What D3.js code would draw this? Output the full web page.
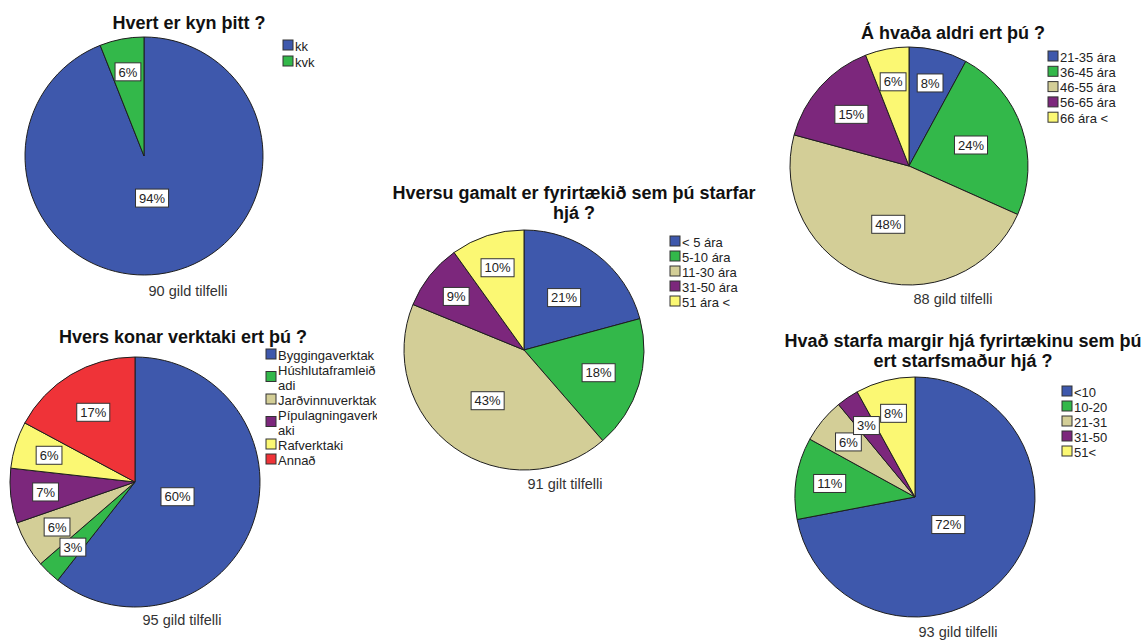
<!DOCTYPE html>
<html>
<head>
<meta charset="utf-8">
<script src="https://cdn.jsdelivr.net/npm/d3@7/dist/d3.min.js"></script>
<style>
  html, body { margin: 0; padding: 0; background: #fff; }
  svg { display: block; font-family: "Liberation Sans", Arial, sans-serif; }
</style>
</head>
<body>
<script>
// ---- Data: survey answers (percent of valid cases) ----
const genderCats = ["kk", "kvk"];
const genderPct = [94, 6];

const ageCats = ["21-35 ára", "36-45 ára", "46-55 ára", "56-65 ára", "66 ára <"];
const agePct = [8, 24, 48, 15, 6];

const companyAgeCats = ["< 5 ára", "5-10 ára", "11-30 ára", "31-50 ára", "51 ára <"];
const companyAgePct = [21, 18, 43, 9, 10];

const contractorCats = [["Byggingaverktak"], ["Húshlutaframleið", "adi"], ["Jarðvinnuverktak"],
                        ["Pípulagningaverk", "aki"], ["Rafverktaki"], ["Annað"]];
const contractorPct = [60, 3, 6, 7, 6, 17];

const staffCats = ["<10", "10-20", "21-31", "31-50", "51<"];
const staffPct = [72, 11, 6, 3, 8];

const titles = {
  gender: ["Hvert er kyn þitt ?"],
  age: ["Á hvaða aldri ert þú ?"],
  companyAge: ["Hversu gamalt er fyrirtækið sem þú starfar", "hjá ?"],
  contractor: ["Hvers konar verktaki ert þú ?"],
  staff: ["Hvað starfa margir hjá fyrirtækinu sem þú", "ert starfsmaður hjá ?"]
};
const footers = {
  gender: "90 gild tilfelli",
  age: "88 gild tilfelli",
  companyAge: "91 gilt tilfelli",
  contractor: "95 gild tilfelli",
  staff: "93 gild tilfelli"
};

// ---- Palette ----
const BLUE = "#3e58ac", GREEN = "#33b84a", TAN = "#d3ce97",
      PURPLE = "#7c277c", YELLOW = "#fbf873", RED = "#ef3338";

// ---- Panel layout ----
const panels = [
  { key: "gender", cats: genderCats.map(c => [c]), values: genderPct, colors: [BLUE, GREEN],
    cx: 144, cy: 156, r: 119, titleX: 189, titleY: 29,
    legendX: 283, legendY: 46, legendStep: 16, footerX: 188, footerY: 296 },
  { key: "age", cats: ageCats.map(c => [c]), values: agePct, colors: [BLUE, GREEN, TAN, PURPLE, YELLOW],
    cx: 909, cy: 166, r: 119, titleX: 953, titleY: 39,
    legendX: 1048, legendY: 57, legendStep: 15.3, footerX: 953, footerY: 304 },
  { key: "companyAge", cats: companyAgeCats.map(c => [c]), values: companyAgePct, colors: [BLUE, GREEN, TAN, PURPLE, YELLOW],
    cx: 524, cy: 350, r: 120, titleX: 574, titleY: 199,
    legendX: 670, legendY: 242, legendStep: 15, footerX: 565, footerY: 489 },
  { key: "contractor", cats: contractorCats, values: contractorPct, colors: [BLUE, GREEN, TAN, PURPLE, YELLOW, RED],
    cx: 135, cy: 482, r: 125, titleX: 183, titleY: 343,
    legendX: 266, legendY: 355, legendStep: 15, legendClip: 377, footerX: 182, footerY: 625 },
  { key: "staff", cats: staffCats.map(c => [c]), values: staffPct, colors: [BLUE, GREEN, TAN, PURPLE, YELLOW],
    cx: 915, cy: 497, r: 120, titleX: 963, titleY: 347,
    legendX: 1062, legendY: 392, legendStep: 15, footerX: 958, footerY: 637 }
];

const W = 1145, H = 642;
const svg = d3.select("body").append("svg").attr("width", W).attr("height", H);

// Distance of the value box from the centre, as a share of the radius
function labelFrac(p) {
  if (p > 0.55) return 0.36;
  if (p > 0.30) return 0.52;
  if (p > 0.19) return 0.55;
  if (p > 0.12) return 0.65;
  return 0.72;
}

function drawPanel(cfg) {
  const total = d3.sum(cfg.values);
  const pie = d3.pie().sort(null).value(d => d);
  const arcs = pie(cfg.values);
  const arc = d3.arc().innerRadius(0).outerRadius(cfg.r);

  // Title
  const tl = titles[cfg.key];
  svg.append("g").selectAll("text").data(tl).join("text")
    .attr("x", cfg.titleX)
    .attr("y", (d, i) => cfg.titleY + i * 20)
    .attr("text-anchor", "middle")
    .attr("font-size", 18).attr("font-weight", "bold").attr("fill", "#111")
    .text(d => d);

  // Slices
  const g = svg.append("g").attr("transform", `translate(${cfg.cx},${cfg.cy})`);
  g.selectAll("path.slice").data(arcs).join("path")
    .attr("class", "slice")
    .attr("d", arc)
    .attr("fill", (d, i) => cfg.colors[i])
    .attr("stroke", "#1e1e1e").attr("stroke-width", 1).attr("stroke-linejoin", "round");

  // Value boxes
  const lab = g.selectAll("g.lab").data(arcs).join("g")
    .attr("class", "lab")
    .attr("transform", d => {
      const rr = labelFrac(d.value / total) * cfg.r;
      const c = d3.arc().innerRadius(rr).outerRadius(rr).centroid(d);
      return `translate(${c[0]},${c[1]})`;
    });
  lab.append("rect");
  lab.append("text")
    .attr("text-anchor", "middle").attr("dy", "0.36em")
    .attr("font-size", 13).attr("fill", "#222")
    .text(d => `${d.value}%`);
  lab.each(function () {
    const t = d3.select(this).select("text").node();
    const w = t.getComputedTextLength() + 7;
    d3.select(this).select("rect")
      .attr("x", -w / 2).attr("y", -9).attr("width", w).attr("height", 18)
      .attr("fill", "#fff").attr("stroke", "#333").attr("stroke-width", 1);
  });

  // Legend
  const lg = svg.append("g");
  if (cfg.legendClip) {
    const id = "clip-" + cfg.key;
    svg.append("clipPath").attr("id", id).append("rect")
      .attr("x", 0).attr("y", 0).attr("width", cfg.legendClip).attr("height", H);
    lg.attr("clip-path", `url(#${id})`);
  }
  const lineH = 15;
  let y = cfg.legendY;
  cfg.cats.forEach((lines, i) => {
    const item = lg.append("g");
    const extra = (lines.length - 1) * lineH;
    item.append("rect")
      .attr("x", cfg.legendX).attr("y", y - 5 + extra / 2 - 1)
      .attr("width", 10).attr("height", 10)
      .attr("fill", cfg.colors[i]).attr("stroke", "#333").attr("stroke-width", 1);
    item.selectAll("text").data(lines).join("text")
      .attr("x", cfg.legendX + 12)
      .attr("y", (d, k) => y + 4.5 + k * lineH)
      .attr("font-size", 13).attr("fill", "#222")
      .text(d => d);
    y += cfg.legendStep + extra;
  });

  // Valid-case count
  svg.append("text")
    .attr("x", cfg.footerX).attr("y", cfg.footerY)
    .attr("text-anchor", "middle")
    .attr("font-size", 14.5).attr("fill", "#333")
    .text(footers[cfg.key]);
}

panels.forEach(drawPanel);
</script>
</body>
</html>
